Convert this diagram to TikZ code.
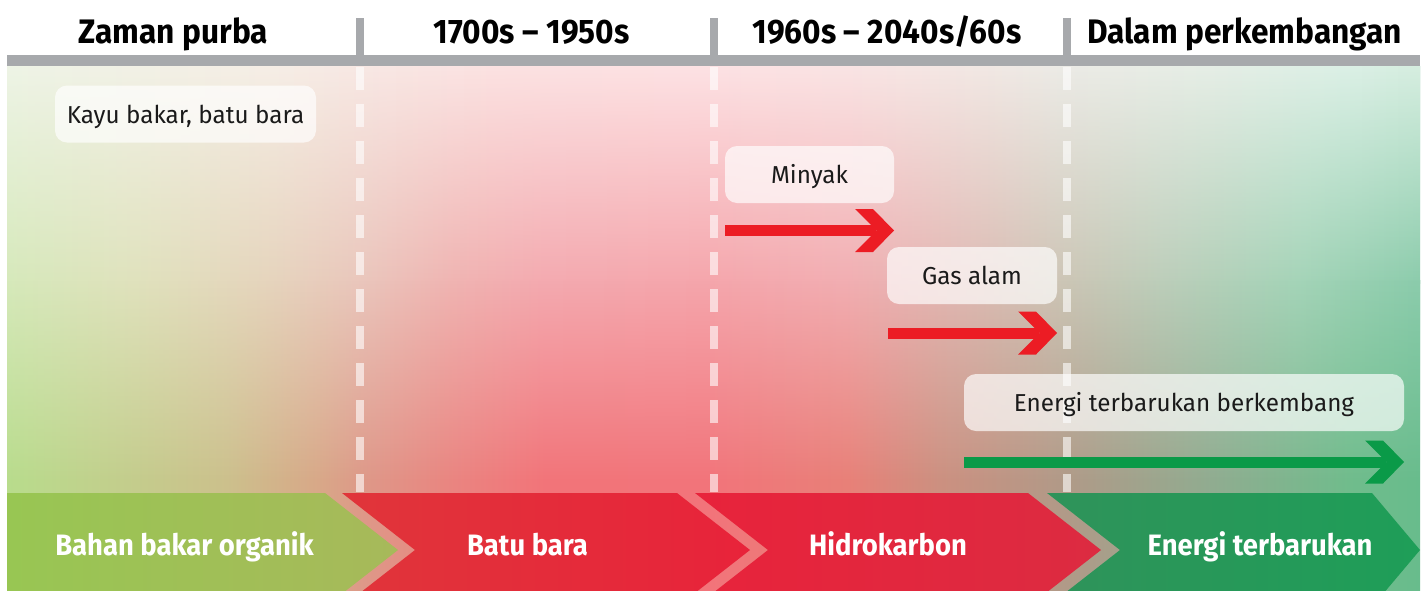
\documentclass[tikz,border=0pt]{standalone}
\usepackage{fontspec}
\setmainfont{Fira Sans}
\newfontfamily\titlefont{Fira Sans}[FakeStretch=0.93]
\newfontfamily\callfont{Fira Sans}[FakeStretch=0.99]
\newfontfamily\bandfont{Fira Sans}[FakeStretch=0.93]
\usetikzlibrary{fadings}

\definecolor{hdrgray}{HTML}{A7A9AC}
\definecolor{calltext}{HTML}{1A1A1A}
\definecolor{arrred}{HTML}{EC1C24}
\definecolor{arrgreen}{HTML}{0A9A48}
\definecolor{gAl}{HTML}{98C653}\definecolor{gAr}{HTML}{A7B95A}
\definecolor{rBl}{HTML}{E0353A}\definecolor{rBr}{HTML}{E8233A}
\definecolor{rCl}{HTML}{E8233B}\definecolor{rCr}{HTML}{DC2B41}
\definecolor{gDl}{HTML}{2F935A}\definecolor{gDr}{HTML}{1E9E58}

% top profile
\definecolor{ta}{HTML}{EEF4E6}\definecolor{tb}{HTML}{F6EEE6}\definecolor{tc}{HTML}{F8E8E4}
\definecolor{td}{HTML}{FCE2E2}\definecolor{te}{HTML}{FDE2E4}\definecolor{tf}{HTML}{FAE4E4}
\definecolor{tg}{HTML}{F2E8E4}\definecolor{th}{HTML}{ECEBE6}\definecolor{ti}{HTML}{E6EEE6}
\definecolor{tj}{HTML}{DCF0E6}\definecolor{tk}{HTML}{D6EEE0}
% middle profile
\definecolor{ma}{HTML}{D6E9BB}\definecolor{mb}{HTML}{E0E2BD}\definecolor{mc}{HTML}{E6D4BD}
\definecolor{md}{HTML}{EAC6BC}\definecolor{me}{HTML}{F0B4B2}\definecolor{mf}{HTML}{F4AAB0}
\definecolor{mg}{HTML}{F5A6AC}\definecolor{mh}{HTML}{F2AEB2}\definecolor{mi}{HTML}{DCBCB4}
\definecolor{mj}{HTML}{CCC6B6}\definecolor{mk}{HTML}{BCCEBA}\definecolor{ml}{HTML}{A4D4B8}
\definecolor{mm}{HTML}{8CCCAC}
% bottom profile
\definecolor{ba}{HTML}{B8DC8C}\definecolor{bb}{HTML}{C4CC8C}\definecolor{bc}{HTML}{CCC08C}
\definecolor{bd}{HTML}{D8A888}\definecolor{be}{HTML}{DE9888}\definecolor{bf}{HTML}{EA8480}
\definecolor{bg}{HTML}{F27479}\definecolor{bh}{HTML}{F2747A}\definecolor{bi}{HTML}{E88078}
\definecolor{bj}{HTML}{CC9080}\definecolor{bk}{HTML}{B09A88}\definecolor{bl}{HTML}{90AC90}
\definecolor{bm}{HTML}{70BC8C}\definecolor{bn}{HTML}{68BC8C}

% shadings mapped onto x = -20 .. 1447 (25bp .. 75bp)
\pgfdeclarehorizontalshading{bgtop}{100bp}{color(0bp)=(ta); color(25.92bp)=(ta);
  color(34.99bp)=(tb); color(38.09bp)=(tc); color(42.72bp)=(td); color(49.85bp)=(te);
  color(54.58bp)=(tf); color(59.25bp)=(tg); color(62.05bp)=(th); color(66.99bp)=(ti);
  color(71.63bp)=(tj); color(74.08bp)=(tk); color(100bp)=(tk)}
\pgfdeclarehorizontalshading{bgmid}{100bp}{color(0bp)=(ma); color(25.92bp)=(ma);
  color(30.32bp)=(mb); color(34.99bp)=(mc); color(38.09bp)=(md); color(41.19bp)=(me);
  color(44.26bp)=(mf); color(49.85bp)=(mg); color(54.58bp)=(mh); color(59.25bp)=(mi);
  color(62.05bp)=(mj); color(65.42bp)=(mk); color(70.09bp)=(ml); color(74.08bp)=(mm);
  color(100bp)=(mm)}
\pgfdeclarehorizontalshading{bgbot}{100bp}{color(0bp)=(ba); color(25.92bp)=(ba);
  color(30.32bp)=(bb); color(33.42bp)=(bc); color(36.52bp)=(bd); color(38.09bp)=(be);
  color(41.19bp)=(bf); color(44.26bp)=(bg); color(49.85bp)=(bh); color(54.58bp)=(bi);
  color(57.69bp)=(bj); color(62.05bp)=(bk); color(66.99bp)=(bl); color(71.63bp)=(bm);
  color(74.08bp)=(bn); color(100bp)=(bn)}

\tikzfading[name=fadedown, top color=transparent!0, bottom color=transparent!100]

\pgfdeclarearrow{
  name = Chev,
  setup code = {
    \pgfarrowssettipend{0pt}
    \pgfarrowssetlineend{-18pt}
    \pgfarrowssetvisualbackend{-39pt}
    \pgfarrowssetbackend{-39pt}
    \pgfarrowshullpoint{0pt}{0pt}
    \pgfarrowsupperhullpoint{-39pt}{21.5pt}
  },
  drawing code = {
    \pgfpathmoveto{\pgfqpoint{0pt}{0pt}}
    \pgfpathlineto{\pgfqpoint{-21pt}{21.5pt}}
    \pgfpathlineto{\pgfqpoint{-39pt}{21.5pt}}
    \pgfpathlineto{\pgfqpoint{-17.5pt}{0pt}}
    \pgfpathlineto{\pgfqpoint{-39pt}{-21.5pt}}
    \pgfpathlineto{\pgfqpoint{-21pt}{-21.5pt}}
    \pgfpathclose
    \pgfusepathqfill
  }
}

\begin{document}
\begin{tikzpicture}[x=1pt,y=-1pt,
  hdr/.style={fill=hdrgray},
  title/.style={font=\titlefont\bfseries\fontsize{34}{36}\selectfont, text=black, anchor=base, inner sep=0pt},
  callout/.style={rounded corners=12pt, fill=white, fill opacity=0.68, text opacity=1,
    text=calltext, font=\callfont\fontsize{24.5}{26}\selectfont, minimum height=57pt,
    text height=18pt, text depth=0pt, inner sep=0pt},
  bandlabel/.style={font=\bandfont\bfseries\fontsize{29.5}{32}\selectfont, text=white, anchor=base, inner sep=0pt},
  divider/.style={white, opacity=0.6, line width=8pt, dash pattern=on 23pt off 14pt},
  redarrow/.style={color=arrred, line width=11pt, -Chev},
  greenarrow/.style={color=arrgreen, line width=11pt, -Chev}]
\useasboundingbox (0,0) rectangle (1425,590);
\clip (0,0) rectangle (1425,590);
\fill[white] (0,0) rectangle (1425,590);

% background gradient (bilinear in two rows), clipped to the panel
\begin{scope}
\clip (7,66) rectangle (1420,590);
\shade[shading=bgmid] (-20,60) rectangle (1447,283);
\shade[shading=bgtop, path fading=fadedown] (-20,66) rectangle (1447,282);
\shade[shading=bgbot] (-20,280) rectangle (1447,600);
\shade[shading=bgmid, path fading=fadedown] (-20,280) rectangle (1447,482);
\end{scope}

% header bar and ticks
\fill[hdr] (7,55) rectangle (1420,66);
\fill[hdr] (356,18) rectangle (364,55);
\fill[hdr] (710,18) rectangle (718,55);
\fill[hdr] (1063,18) rectangle (1071,55);

% titles
\node[title] (t1) at (173.5,43) {Zaman purba};
\node[title] (t2) at (531.5,43) {1700s – 1950s};
\node[title] (t3) at (887,43) {1960s – 2040s/60s};
\node[title] (t4) at (1244.5,43) {Dalam perkembangan};

% dashed dividers
\coordinate (d1a) at (360,67); \coordinate (d1b) at (360,492);
\coordinate (d2a) at (714,67); \coordinate (d2b) at (714,492);
\coordinate (d3a) at (1067,67); \coordinate (d3b) at (1067,492);
\draw[divider] (d1a) -- (d1b);
\draw[divider] (d2a) -- (d2b);
\draw[divider] (d3a) -- (d3b);

% arrows
\coordinate (a1s) at (725,230.5); \coordinate (a1e) at (894,230.5);
\coordinate (a2s) at (888,333); \coordinate (a2e) at (1057,333);
\coordinate (a3s) at (964,462); \coordinate (a3e) at (1404,462);
\draw[redarrow] (a1s) -- (a1e);
\draw[redarrow] (a2s) -- (a2e);
\draw[greenarrow] (a3s) -- (a3e);

% callouts
\node[callout, minimum width=261pt] (c1) at (185.5,114) {Kayu bakar, batu bara};
\node[callout, minimum width=169pt] (c2) at (809.5,174.5) {Minyak};
\node[callout, minimum width=170pt] (c3) at (972,275.5) {Gas alam};
\node[callout, minimum width=440pt] (c4) at (1184,402.5) {Energi terbarukan berkembang};

% bottom band
\shade[left color=gAl, right color=gAr] (7,493) -- (325,493) -- (398,550) -- (325,607) -- (7,607) -- cycle;
\shade[left color=rBl, right color=rBr] (342,493) -- (677,493) -- (750,550) -- (677,607) -- (342,607) -- (415,550) -- cycle;
\shade[left color=rCl, right color=rCr] (695,493) -- (1028,493) -- (1101,550) -- (1028,607) -- (695,607) -- (768,550) -- cycle;
\shade[left color=gDl, right color=gDr] (1047,493) -- (1372,493) -- (1420,550) -- (1372,607) -- (1047,607) -- (1120,550) -- cycle;

\node[bandlabel] (b1) at (184.5,555) {Bahan bakar organik};
\node[bandlabel] (b2) at (527.5,555) {Batu bara};
\node[bandlabel] (b3) at (888,555) {Hidrokarbon};
\node[bandlabel] (b4) at (1260,555) {Energi terbarukan};
\end{tikzpicture}
\end{document}
